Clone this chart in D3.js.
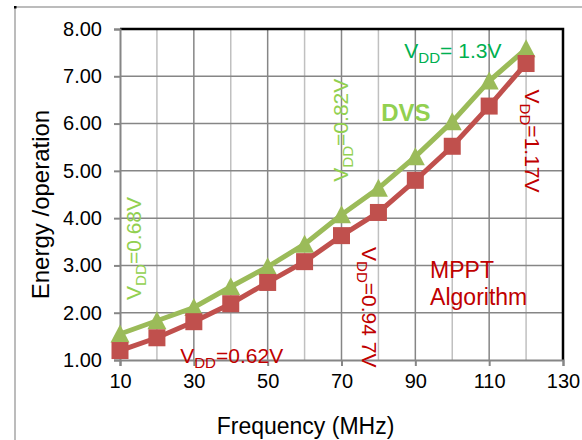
<!DOCTYPE html>
<html>
<head>
<meta charset="utf-8">
<script src="https://cdn.jsdelivr.net/npm/d3@7"></script>
<style>
  body { margin: 0; background: #fff; }
  text { font-family: "Liberation Sans", Arial, Helvetica, sans-serif; }
</style>
</head>
<body>
<svg id="chart"></svg>
<script>

// data
var freqs = [10, 20, 30, 40, 50, 60, 70, 80, 90, 100, 110, 120];
var dvsEnergy = [1.55, 1.83, 2.11, 2.55, 2.97, 3.45, 4.07, 4.63, 5.30, 6.04, 6.90, 7.58];
var mpptEnergy = [1.20, 1.47, 1.81, 2.19, 2.64, 3.08, 3.63, 4.12, 4.80, 5.52, 6.37, 7.27];
var xTicks = [10, 30, 50, 70, 90, 110, 130];
var xMinor = [20, 40, 60, 80, 100, 120];
var yTicks = [1, 2, 3, 4, 5, 6, 7, 8];

var W = 582, H = 440;
var margin = { left: 120, top: 29, right: 19, bottom: 80 };

var svg = d3.select("#chart")
	.attr("width", W)
	.attr("height", H);

var x = d3.scaleLinear()
	.domain([10, 130])
	.range([margin.left, W - margin.right]);

var y = d3.scaleLinear()
	.domain([1, 8])
	.range([H - margin.bottom, margin.top]);

// chart area frame (only top and left edges are visible)
svg.append("path")
	.attr("d", "M15," + H + "V7H" + W)
	.style("fill", "none")
	.style("stroke", "#a6a6a6")
	.style("stroke-width", 1.5);

svg.append("rect")
	.attr("x", 14).attr("y", 6)
	.attr("width", 2.5).attr("height", 2.5)
	.style("fill", "#000");

// grid
var grid = svg.append("g").attr("class", "grid");

grid.selectAll("line.minor")
	.data(xMinor)
	.enter().append("line")
	.attr("class", "minor")
	.attr("x1", function(d) { return x(d); })
	.attr("x2", function(d) { return x(d); })
	.attr("y1", y(1)).attr("y2", y(8))
	.style("stroke", "#c0c0c0")
	.style("stroke-width", 1.5);

grid.selectAll("line.major")
	.data(xTicks.slice(1, -1))
	.enter().append("line")
	.attr("class", "major")
	.attr("x1", function(d) { return x(d); })
	.attr("x2", function(d) { return x(d); })
	.attr("y1", y(1)).attr("y2", y(8))
	.style("stroke", "#868686")
	.style("stroke-width", 1.5);

grid.selectAll("line.h")
	.data(yTicks.slice(1, -1))
	.enter().append("line")
	.attr("class", "h")
	.attr("x1", x(10)).attr("x2", x(130))
	.attr("y1", function(d) { return y(d); })
	.attr("y2", function(d) { return y(d); })
	.style("stroke", "#868686")
	.style("stroke-width", 1.5);

// plot border top + right
svg.append("path")
	.attr("d", "M" + x(10) + "," + y(8) + "H" + x(130) + "V" + y(1))
	.style("fill", "none")
	.style("stroke", "#000")
	.style("stroke-width", 2.5);

// axes
var xAxis = d3.axisBottom(x)
	.tickValues(xTicks)
	.tickSize(6)
	.tickPadding(6)
	.tickFormat(d3.format("d"));

var yAxis = d3.axisLeft(y)
	.tickValues(yTicks)
	.tickSize(6)
	.tickPadding(12)
	.tickFormat(d3.format(".2f"));

var gx = svg.append("g")
	.attr("transform", "translate(0," + y(1) + ")")
	.call(xAxis);

var gy = svg.append("g")
	.attr("transform", "translate(" + x(10) + ",0)")
	.call(yAxis);

svg.selectAll(".domain, .tick line")
	.style("stroke", "#868686")
	.style("stroke-width", 2);

svg.selectAll(".tick text")
	.style("font-size", "20px")
	.style("font-family", "Liberation Sans, Arial")
	.style("fill", "#000");

gx.selectAll(".tick text").attr("dy", "0.8em");

// axis titles
svg.append("text")
	.attr("transform", "translate(49," + ((y(1) + y(8)) / 2 + 10) + ") rotate(-90)")
	.style("text-anchor", "middle")
	.style("font-size", "24px")
	.text("Energy /operation");

svg.append("text")
	.attr("x", (x(10) + x(130)) / 2 - 36)
	.attr("y", 434)
	.style("text-anchor", "middle")
	.style("font-size", "23px")
	.text("Frequency (MHz)");

// series
var dvs = freqs.map(function(f, i) { return { f: f, v: dvsEnergy[i] }; });
var mppt = freqs.map(function(f, i) { return { f: f, v: mpptEnergy[i] }; });

var line = d3.line()
	.x(function(d) { return x(d.f); })
	.y(function(d) { return y(d.v); });

svg.append("path")
	.attr("d", line(dvs))
	.style("fill", "none")
	.style("stroke", "#9bbb59")
	.style("stroke-width", 5);

svg.selectAll("path.tri")
	.data(dvs)
	.enter().append("path")
	.attr("class", "tri")
	.attr("transform", function(d) { return "translate(" + x(d.f) + "," + y(d.v) + ")"; })
	.attr("d", "M0,-9.5L9.5,8.5L-9.5,8.5Z")
	.style("fill", "#9bbb59");

svg.append("path")
	.attr("d", line(mppt))
	.style("fill", "none")
	.style("stroke", "#c0504d")
	.style("stroke-width", 5);

svg.selectAll("rect.sq")
	.data(mppt)
	.enter().append("rect")
	.attr("class", "sq")
	.attr("x", function(d) { return x(d.f) - 8.5; })
	.attr("y", function(d) { return y(d.v) - 8.5; })
	.attr("width", 17)
	.attr("height", 17)
	.style("fill", "#c0504d");

// annotations
function vdd(g, rest, color, size) {
	var t = g.append("text")
		.style("fill", color)
		.style("font-size", size + "px");
	t.append("tspan").text("V");
	t.append("tspan").attr("dy", 5).style("font-size", (size * 0.72) + "px").text("DD");
	t.append("tspan").attr("dy", -5).text(rest);
	return t;
}

vdd(svg, "=0.68V", "#92d050", 21)
	.attr("transform", "translate(" + x(15.7) + "," + y(2.27) + ") rotate(-90)");

vdd(svg, "=0.82V", "#92d050", 21)
	.attr("transform", "translate(" + x(71.8) + "," + y(4.77) + ") rotate(-90)");

vdd(svg, "= 1.3V", "#00b050", 21)
	.attr("transform", "translate(" + x(87) + "," + y(7.39) + ")");

vdd(svg, "=1.17V", "#c00000", 21)
	.attr("transform", "translate(" + x(119.8) + "," + y(6.72) + ") rotate(90)");

vdd(svg, "=0.94 7V", "#c00000", 21)
	.attr("transform", "translate(" + x(75.6) + "," + y(3.39) + ") rotate(90)");

vdd(svg, "=0.62V", "#c00000", 21)
	.attr("transform", "translate(" + x(26.3) + "," + y(0.94) + ")");

svg.append("text")
	.attr("x", x(80.75))
	.attr("y", y(6.06))
	.style("fill", "#92d050")
	.style("font-size", "24px")
	.style("font-weight", "bold")
	.text("DVS");

svg.append("text")
	.attr("x", x(94))
	.attr("y", y(2.74))
	.style("fill", "#c00000")
	.style("font-size", "23px")
	.text("MPPT");

svg.append("text")
	.attr("x", x(94))
	.attr("y", y(2.16))
	.style("fill", "#c00000")
	.style("font-size", "23px")
	.text("Algorithm");

</script>
</body>
</html>
